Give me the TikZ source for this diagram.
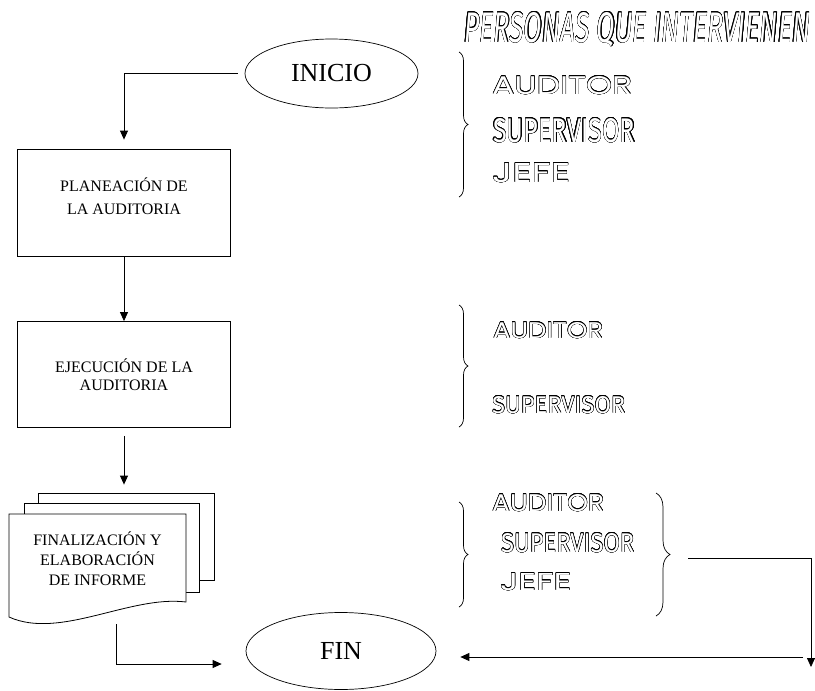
\documentclass[tikz,border=0pt]{standalone}
\usepackage{fontspec}
\setmainfont{Liberation Serif}
\newfontfamily\geo{Poppins}
\newfontfamily\cond{Fira Sans}
\usepackage[copies]{contour}
\contourlength{0.35pt}
\usetikzlibrary{shapes.geometric,arrows.meta,decorations.pathreplacing}
% letras huecas: ancho, alto, texto
\newcommand{\hueco}[3]{\textcolor{white}{\contour{black}{\resizebox{#1}{#2}{#3}}}}
\begin{document}
\begin{tikzpicture}[x=1pt,y=-1pt,
	caja/.style={draw,line width=.8pt,minimum width=213pt,minimum height=107pt,inner sep=0},
	ovalo/.style={draw,ellipse,line width=.7pt,inner sep=0,font=\fontsize{26}{26}\selectfont},
	hoja/.style={draw,fill=white,line width=.8pt,inner sep=0,minimum width=176pt},
	flecha/.style={line width=.8pt,-{Triangle[length=9pt,width=8pt]}},
	llave/.style={decorate,decoration={brace,amplitude=9pt,aspect=.5},line width=.7pt},
	rotulo/.style={anchor=base west,inner sep=0}]
	\useasboundingbox (0,0) rectangle (815,691);
	\node[ovalo,minimum width=173pt,minimum height=69pt] (inicio) at (331.5,73.5){INICIO};
	\node[caja] (plan) at (124,202.5){};
	\node[align=center,font=\fontsize{16}{23}\selectfont] (plantxt) at (124,196){PLANEACIÓN DE\\LA AUDITORIA};
	\node[caja,minimum height=106pt,align=center,font=\fontsize{16}{18.5}\selectfont] (ejec) at (124,374.5){EJECUCIÓN DE LA\\AUDITORIA};
	% hojas del informe
	\node[hoja,minimum height=87pt] (hoja3) at (126,536.5){};
	\node[hoja,minimum width=175pt,minimum height=89pt] (hoja2) at (111.5,547.5){};
	\draw[fill=white,line width=.8pt] (9,514)--(186,514)--(186,602) .. controls (130,595) and (60,640) .. (9,617)--cycle;
	\node[align=center,font=\fontsize{16}{20}\selectfont] (doc) at (97.5,559){FINALIZACIÓN Y\\ELABORACIÓN\\DE INFORME};
	\node[ovalo,minimum width=190pt,minimum height=77pt] (fin) at (341,651){FIN};
	\coordinate (salida) at (116,624);
	\coordinate (llave3) at (688,558);
	\coordinate (esquina) at (811,667);
	\draw[flecha,shorten <=7pt,shorten >=9pt] (inicio.west) -| (plan.north);
	\draw[flecha] (plan)--(ejec);
	\draw[flecha,shorten <=8pt,shorten >=8pt] (ejec.south)--(ejec.south |- hoja3.north);
	\draw[flecha] (salida) |- ([shift={(-24pt,-13pt)}]fin.west);
	\draw[flecha] (llave3) -| (esquina);
	\draw[flecha] ([shift={(-8pt,10pt)}]esquina)--([shift={(24pt,-6pt)}]fin.east);
	% personas
	\node[rotulo] (titulo) at (464,42){\hueco{346pt}{30pt}{\cond\itshape PERSONAS QUE INTERVIENEN}};
	\draw[llave] (459,52)--(459,197);
	\node[rotulo] (aud1) at (492,94){\hueco{140pt}{18pt}{\geo AUDITOR}};
	\node[rotulo] (sup1) at (493,142){\hueco{142pt}{24pt}{\cond SUPERVISOR}};
	\node[rotulo] (jefe1) at (492,182){\hueco{78pt}{19pt}{\geo JEFE}};
	\draw[llave] (459,305)--(459,427);
	\node[rotulo] (aud2) at (493,338){\hueco{110pt}{16pt}{\geo AUDITOR}};
	\node[rotulo] (sup2) at (492,413){\hueco{133pt}{17pt}{\cond SUPERVISOR}};
	\draw[llave] (459,502)--(459,607);
	\node[rotulo] (aud3) at (492,511){\hueco{112pt}{17pt}{\geo AUDITOR}};
	\node[rotulo] (sup3) at (501,552){\hueco{133pt}{19pt}{\cond SUPERVISOR}};
	\node[rotulo] (jefe3) at (500,590){\hueco{71pt}{17pt}{\geo JEFE}};
	\draw[llave,decoration={amplitude=14pt}] (656,493)--(656,616);
\end{tikzpicture}
\end{document}
